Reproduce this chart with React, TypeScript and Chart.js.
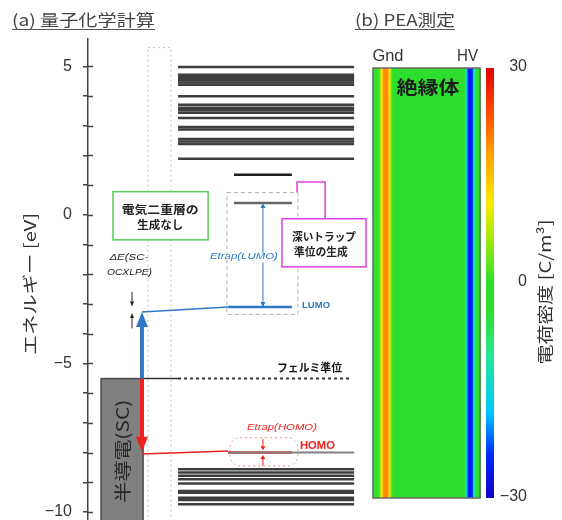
import React, { useEffect, useRef } from "react";
import { Chart, registerables } from "chart.js";

Chart.register(...registerables);

// ---------- (a) 量子化学計算 : energy levels [eV] ----------
const upperLevels = [4.98, 4.72, 4.65, 4.58, 4.53, 4.46, 4.38, 3.99, 3.71, 3.61, 3.52, 3.44, 3.26, 2.96, 2.87, 2.55, 2.47, 2.39, 1.89];
const trapLevels = [1.35, 0.4];
const lumoLevel = -3.1;
const fermiLevel = -5.51;
const homoLevel = -8.0;
const lowerLevels = [-8.56, -8.67, -8.78, -8.9, -9.04, -9.29, -9.35, -9.52, -9.6, -9.74];
const scLumoEdge = -3.27;
const scHomoEdge = -8.05;
const energyTicks = [-10, -9, -8, -7, -6, -5, -4, -3, -2, -1, 0, 1, 2, 3, 4, 5];
const energyLabelled = [-10, -5, 0, 5];

// ---------- (b) PEA測定 : charge density profile [C/m^3] ----------
const pePosition = [0, 0.055, 0.07, 0.085, 0.1, 0.125, 0.145, 0.16, 0.175, 0.19, 0.5, 0.85, 0.862, 0.875, 0.89, 0.91, 0.928, 0.942, 0.955, 0.97, 0.985, 1];
const peCharge = [0, 1, 6, 14, 19, 20, 16, 8, 2, 0, 0, 0, -6, -16, -25, -26, -24, -15, -9, -3, 0, 0];
const chargeTicks = [-30, 0, 30];

const W = 562;
const H = 520;
const JP = '"Noto Sans CJK JP", sans-serif';
const SANS = '"Liberation Sans", Arial, sans-serif';
const BLUE = "#2f78c8";
const RED = "#ee2020";

// horizontal layout of the schematic (arbitrary units 0..100)
const LX = {
  scL: 4.6, scR: 19.4, arrow: 19.0,
  colL: 21.1, colR: 29.2, colTop: 5.63,
  bandL: 31.7, bandR: 93.7,
  trapL: 51.4, trapR: 71.8,
  lvlL: 49.3, lvlR: 71.8,
  fermiR: 92.3, etrap: 61.6,
};

const fmt = (v: number) => (v < 0 ? "\u2212" + Math.abs(v) : String(v));

function fitText(ctx: CanvasRenderingContext2D, s: string, cx: number, cy: number, font: string, color: string, targetW?: number, rot = 0) {
  ctx.save();
  ctx.font = font;
  ctx.fillStyle = color;
  ctx.textAlign = "center";
  ctx.textBaseline = "middle";
  ctx.translate(cx, cy);
  if (rot) ctx.rotate(rot);
  if (targetW) {
    const w = ctx.measureText(s).width;
    ctx.scale(targetW / w, 1);
  }
  ctx.fillText(s, 0, 0);
  ctx.restore();
}

function arrow(ctx: CanvasRenderingContext2D, x: number, y0: number, y1: number, color: string, lw: number, hw: number, hl: number) {
  const dir = Math.sign(y1 - y0);
  ctx.save();
  ctx.strokeStyle = color;
  ctx.fillStyle = color;
  ctx.lineWidth = lw;
  ctx.setLineDash([]);
  ctx.beginPath();
  ctx.moveTo(x, y0);
  ctx.lineTo(x, y1 - dir * hl * 0.8);
  ctx.stroke();
  ctx.beginPath();
  ctx.moveTo(x, y1);
  ctx.lineTo(x - hw / 2, y1 - dir * hl);
  ctx.lineTo(x + hw / 2, y1 - dir * hl);
  ctx.closePath();
  ctx.fill();
  ctx.restore();
}

function colormap(v: number) {
  const stops: [number, number[]][] = [
    [-30, [20, 0, 200]],
    [-24, [0, 40, 255]],
    [-18, [0, 200, 255]],
    [-10, [40, 230, 150]],
    [-4, [45, 222, 45]],
    [0, [45, 222, 45]],
    [5, [140, 232, 20]],
    [11, [250, 235, 0]],
    [18, [255, 160, 0]],
    [24, [255, 70, 0]],
    [30, [225, 0, 0]],
  ];
  if (v <= stops[0][0]) return `rgb(${stops[0][1].join(",")})`;
  for (let i = 1; i < stops.length; i++) {
    if (v <= stops[i][0]) {
      const [a, ca] = stops[i - 1];
      const [b, cb] = stops[i];
      const t = (v - a) / (b - a);
      const c = ca.map((k, j) => Math.round(k + (cb[j] - k) * t));
      return `rgb(${c.join(",")})`;
    }
  }
  return `rgb(${stops[stops.length - 1][1].join(",")})`;
}

function profileAt(p: number) {
  if (p <= pePosition[0]) return peCharge[0];
  for (let i = 1; i < pePosition.length; i++) {
    if (p <= pePosition[i]) {
      const t = (p - pePosition[i - 1]) / (pePosition[i] - pePosition[i - 1]);
      return peCharge[i - 1] + (peCharge[i] - peCharge[i - 1]) * t;
    }
  }
  return peCharge[peCharge.length - 1];
}

const seg = (x0: number, x1: number, y: number, color: string, w: number, dash: number[] = []) => ({
  data: [{ x: x0, y }, { x: x1, y }],
  showLine: true,
  borderColor: color,
  borderWidth: w,
  borderDash: dash,
  borderCapStyle: "butt",
  pointRadius: 0,
  fill: false,
});

const zeroPad = (s: any) => {
  s.paddingTop = 0;
  s.paddingBottom = 0;
};

const leftDecor = {
  id: "leftDecor",
  beforeDatasetsDraw(chart: any) {
    const { ctx } = chart;
    const xs = chart.scales.x;
    const ys = chart.scales.y;
    const px = (u: number) => xs.getPixelForValue(u);
    const py = (e: number) => ys.getPixelForValue(e);
    ctx.save();
    // tall dotted column
    ctx.setLineDash([2, 3]);
    ctx.strokeStyle = "#bdbdbd";
    ctx.lineWidth = 1;
    ctx.strokeRect(px(LX.colL), py(LX.colTop), px(LX.colR) - px(LX.colL), py(-11) - py(LX.colTop));
    // dashed box around LUMO trap levels
    ctx.setLineDash([4, 3]);
    ctx.strokeStyle = "#b0b0b0";
    ctx.strokeRect(px(48.9), py(0.75), px(73.9) - px(48.9), py(-3.35) - py(0.75));
    // dotted red rounded box around HOMO
    ctx.setLineDash([2, 3]);
    ctx.strokeStyle = "#e89090";
    ctx.beginPath();
    ctx.roundRect(px(50), py(-7.5), px(73.9) - px(50), py(-8.45) - py(-7.5), 10);
    ctx.stroke();
    // semiconductor box
    ctx.setLineDash([]);
    ctx.fillStyle = "#808080";
    ctx.strokeStyle = "#4a4a4a";
    ctx.lineWidth = 1.5;
    const sx = px(LX.scL), sy = py(fermiLevel);
    ctx.fillRect(sx, sy, px(LX.scR) - sx, py(-11) - sy);
    ctx.strokeRect(sx, sy, px(LX.scR) - sx, py(-11) - sy);
    ctx.restore();
  },
  afterDatasetsDraw(chart: any) {
    const { ctx } = chart;
    const xs = chart.scales.x;
    const ys = chart.scales.y;
    const px = (u: number) => xs.getPixelForValue(u);
    const py = (e: number) => ys.getPixelForValue(e);
    ctx.save();
    // inner half of the axis ticks
    ctx.strokeStyle = "#444";
    ctx.lineWidth = 1.5;
    const ax = ys.right;
    energyTicks.forEach((v) => {
      const y = Math.round(py(v)) + 0.5;
      ctx.beginPath();
      ctx.moveTo(ax, y);
      ctx.lineTo(ax + 5, y);
      ctx.stroke();
    });

    // thin connector lines from SC to LUMO / HOMO
    ctx.lineWidth = 1.5;
    ctx.strokeStyle = BLUE;
    ctx.beginPath();
    ctx.moveTo(px(LX.arrow), py(scLumoEdge));
    ctx.lineTo(px(LX.lvlL), py(lumoLevel));
    ctx.stroke();
    ctx.strokeStyle = RED;
    ctx.beginPath();
    ctx.moveTo(px(LX.arrow), py(scHomoEdge));
    ctx.lineTo(px(LX.lvlL), py(homoLevel + 0.05));
    ctx.stroke();

    // thick arrows from Fermi level
    arrow(ctx, px(LX.arrow), py(fermiLevel), py(scLumoEdge), BLUE, 4, 12, 15);
    arrow(ctx, px(LX.arrow), py(fermiLevel), py(homoLevel + 0.03), RED, 4, 12, 15);

    // Etrap(LUMO) double arrow
    arrow(ctx, px(LX.etrap), py(-1.3), py(trapLevels[1]), BLUE, 1, 5, 5);
    arrow(ctx, px(LX.etrap), py(-1.6), py(lumoLevel), BLUE, 1, 5, 5);
    // Etrap(HOMO) small arrows
    arrow(ctx, px(LX.etrap), py(-7.55), py(-7.92), RED, 1, 5, 4);
    arrow(ctx, px(LX.etrap), py(-8.45), py(-8.08), RED, 1, 5, 4);
    // ΔE small arrows
    arrow(ctx, px(15.5), py(-2.59), py(-3.08), "#222", 1, 4, 5);
    arrow(ctx, px(15.5), py(-3.82), py(-3.3), "#222", 1, 4, 5);

    // green box
    ctx.setLineDash([]);
    ctx.lineWidth = 1.5;
    const box = (x0: number, x1: number, e0: number, e1: number, color: string) => {
      ctx.fillStyle = "#ffffff";
      ctx.strokeStyle = color;
      ctx.fillRect(px(x0), py(e0), px(x1) - px(x0), py(e1) - py(e0));
      ctx.strokeRect(px(x0), py(e0), px(x1) - px(x0), py(e1) - py(e0));
    };
    box(8.8, 42.3, 0.78, -0.84, "#55d055");
    // magenta connector + box
    ctx.strokeStyle = "#e040e0";
    ctx.beginPath();
    ctx.moveTo(px(73.6), py(0.75));
    ctx.lineTo(px(73.6), py(1.11));
    ctx.lineTo(px(83.5), py(1.11));
    ctx.lineTo(px(83.5), py(-0.13));
    ctx.stroke();
    box(68.3, 97.9, -0.13, -1.75, "#e040e0");
    ctx.restore();

    // texts
    const b11 = `bold 11px ${JP}`;
    fitText(ctx, "電気二重層の", px(25.4), py(0.17), b11, "#222", 77);
    fitText(ctx, "生成なし", px(25.4), py(-0.33), b11, "#222", 46);
    fitText(ctx, "深いトラップ", px(83.1), py(-0.74), b11, "#222", 64);
    fitText(ctx, "準位の生成", px(82.0), py(-1.24), b11, "#222", 54);
    fitText(ctx, "フェルミ準位", px(78.0), py(-5.15), b11, "#111", 65);
    fitText(ctx, "ΔE(SC-", px(14.4), py(-1.44), `italic 9px ${SANS}`, "#222", 39);
    fitText(ctx, "OCXLPE)", px(14.6), py(-1.95), `italic 9px ${SANS}`, "#222", 45);
    fitText(ctx, "Etrap(LUMO)", px(54.9), py(-1.41), `italic 9px ${SANS}`, BLUE, 68);
    fitText(ctx, "Etrap(HOMO)", px(68.3), py(-7.14), `italic 9px ${SANS}`, RED, 70);
    fitText(ctx, "LUMO", px(80.3), py(-3.06), `bold 9px ${SANS}`, BLUE, 28);
    fitText(ctx, "HOMO", px(80.8), py(-7.78), `bold 10px ${SANS}`, RED, 35);
    fitText(ctx, "半導電(SC)", px(12.0), py(-7.95), `17px ${JP}`, "#262626", 103, -Math.PI / 2);

    // axis title and panel title
    fitText(ctx, "エネルギー [eV]", 30, 284, `16px ${JP}`, "#333", 142, -Math.PI / 2);
    fitText(ctx, "(a) 量子化学計算", 83.5, 20, `16px ${JP}`, "#444", 143);
    ctx.save();
    ctx.strokeStyle = "#555";
    ctx.lineWidth = 1.2;
    ctx.beginPath();
    ctx.moveTo(12, 29.5);
    ctx.lineTo(155, 29.5);
    ctx.stroke();
    ctx.restore();
  },
};

const rightDecor = {
  id: "rightDecor",
  beforeDatasetsDraw(chart: any) {
    const { ctx } = chart;
    const xs = chart.scales.x;
    const ys = chart.scales.y;
    const top = ys.getPixelForValue(30);
    const bot = ys.getPixelForValue(-30);
    const hx0 = xs.getPixelForValue(0);
    const hx1 = xs.getPixelForValue(1);
    ctx.save();
    // heat map (uniform along vertical direction)
    for (let x = Math.floor(hx0); x < Math.ceil(hx1); x++) {
      const p = xs.getValueForPixel(x + 0.5);
      ctx.fillStyle = colormap(profileAt(Math.min(1, Math.max(0, p))));
      ctx.fillRect(x, top, 1, bot - top);
    }
    ctx.strokeStyle = "#6a6a6a";
    ctx.lineWidth = 1.5;
    ctx.strokeRect(hx0, top, hx1 - hx0, bot - top);
    // colour bar
    const cx0 = xs.getPixelForValue(1.056);
    const cx1 = chart.chartArea.right;
    for (let y = Math.floor(top); y < Math.ceil(bot); y++) {
      const v = ys.getValueForPixel(y + 0.5);
      ctx.fillStyle = colormap(v);
      ctx.fillRect(cx0, y, cx1 - cx0, 1);
    }
    // colour-bar tick labels, right aligned
    ctx.font = `16px ${SANS}`;
    ctx.fillStyle = "#333";
    ctx.textAlign = "right";
    ctx.textBaseline = "middle";
    chargeTicks.forEach((v) => {
      ctx.fillText(fmt(v), cx1 + 33, ys.getPixelForValue(v) - 1);
    });
    ctx.restore();

    fitText(ctx, "Gnd", xs.getPixelForValue(0.14) , top - 11, `16px ${SANS}`, "#333", 31);
    fitText(ctx, "HV", xs.getPixelForValue(0.883), top - 11, `16px ${SANS}`, "#333", 21);
    fitText(ctx, "絶縁体", xs.getPixelForValue(0.514), top + 19, `bold 18px ${JP}`, "#1a1a1a", 63);
    fitText(ctx, "電荷密度 [C/m³]", 545, 292, `16px ${JP}`, "#333", 145, -Math.PI / 2);
    fitText(ctx, "(b) PEA測定", 405, 20, `16px ${JP}`, "#444", 100);
    ctx.save();
    ctx.strokeStyle = "#555";
    ctx.lineWidth = 1.2;
    ctx.beginPath();
    ctx.moveTo(355, 29.5);
    ctx.lineTo(455, 29.5);
    ctx.stroke();
    ctx.restore();
  },
};

export default function App() {
  const leftRef = useRef<HTMLCanvasElement>(null);
  const rightRef = useRef<HTMLCanvasElement>(null);

  useEffect(() => {
    const levelColor = "#3e3e3e";
    const datasets: any[] = [
      ...upperLevels.map((e) => seg(LX.bandL, LX.bandR, e, levelColor, 2.5)),
      seg(LX.trapL, LX.trapR, trapLevels[0], "#1e1e1e", 2.5),
      seg(LX.trapL, LX.trapR, trapLevels[1], "#666666", 2.5),
      seg(LX.lvlL, LX.lvlR, lumoLevel, BLUE, 2.5),
      seg(LX.scR, LX.bandL, fermiLevel, "#333333", 1.5),
      seg(LX.bandL, LX.fermiR, fermiLevel, "#333333", 2, [3, 3]),
      seg(LX.lvlL, LX.bandR, homoLevel, "#808080", 2),
      seg(LX.lvlL, LX.lvlR, homoLevel, RED, 2.5),
      ...lowerLevels.map((e) => seg(LX.bandL, LX.bandR, e, levelColor, 2.5)),
    ];

    const left = new Chart(leftRef.current as HTMLCanvasElement, {
      type: "scatter",
      data: { datasets },
      options: {
        animation: false,
        responsive: false,
        devicePixelRatio: 1,
        events: [],
        layout: { autoPadding: false, padding: { left: 0, top: 39, right: 190, bottom: 0 } },
        plugins: { legend: { display: false }, tooltip: { enabled: false } },
        scales: {
          x: { type: "linear", min: 0, max: 100, display: false },
          y: {
            type: "linear",
            min: -10.27,
            max: 5.92,
            afterBuildTicks: (s: any) => {
              s.ticks = energyTicks.map((v) => ({ value: v }));
            },
            afterFit: (s: any) => {
              s.width = 88;
              zeroPad(s);
            },
            ticks: {
              autoSkip: false,
              padding: 11,
              color: "#333",
              font: { family: SANS, size: 16 },
              callback: (v: any) => (energyLabelled.includes(Number(v)) ? fmt(Number(v)) : ""),
            },
            grid: { drawOnChartArea: false, drawTicks: true, tickLength: 5, color: "#444", lineWidth: 1.5 },
            border: { display: true, color: "#444", width: 1.5 },
          },
        },
      } as any,
      plugins: [leftDecor],
    });

    const right = new Chart(rightRef.current as HTMLCanvasElement, {
      type: "scatter",
      data: { datasets: [] },
      options: {
        animation: false,
        responsive: false,
        devicePixelRatio: 1,
        events: [],
        layout: { autoPadding: false, padding: { left: 373, top: 68, right: 0, bottom: 22 } },
        plugins: { legend: { display: false }, tooltip: { enabled: false } },
        scales: {
          x: { type: "linear", min: 0, max: 1.1308, display: false },
          y: {
            type: "linear",
            position: "right",
            min: -30,
            max: 30,
            afterBuildTicks: (s: any) => {
              s.ticks = chargeTicks.map((v) => ({ value: v }));
            },
            afterFit: (s: any) => {
              s.width = 68;
              zeroPad(s);
            },
            ticks: { display: false },
            grid: { display: false, drawTicks: false },
            border: { display: false },
          },
        },
      } as any,
      plugins: [rightDecor],
    });

    return () => {
      left.destroy();
      right.destroy();
    };
  }, []);

  const cs: React.CSSProperties = { position: "absolute", left: 0, top: 0, width: W, height: H, display: "block" };
  return (
    <div style={{ position: "fixed", left: 0, top: 0, width: W, height: H, background: "#fff" }}>
      <canvas ref={leftRef} width={W} height={H} style={cs} />
      <canvas ref={rightRef} width={W} height={H} style={cs} />
    </div>
  );
}
